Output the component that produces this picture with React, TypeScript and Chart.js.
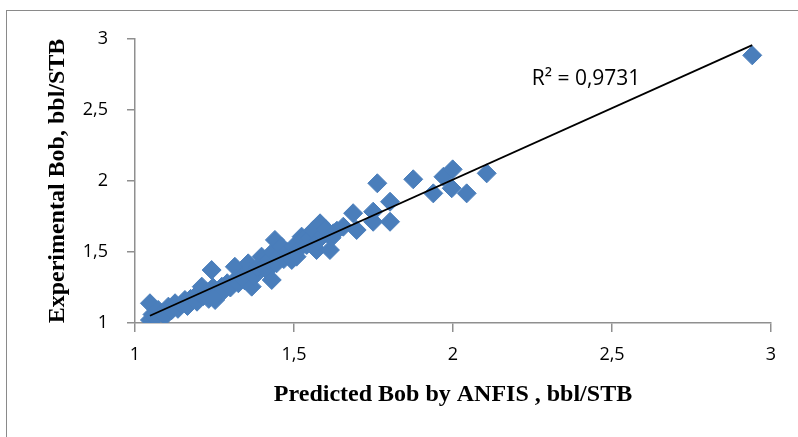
import React, { useEffect, useRef } from 'react';
import { Chart, registerables } from 'chart.js';

Chart.register(...registerables);

// Predicted Bob by ANFIS (x) and experimental Bob (y), bbl/STB
const predicted = [
  1.047, 1.047, 1.055, 1.065, 1.073, 1.085, 1.095, 1.105, 1.115, 1.126,
  1.135, 1.145, 1.157, 1.165, 1.175, 1.189, 1.195, 1.199, 1.21, 1.215,
  1.225, 1.232, 1.241, 1.245, 1.252, 1.26, 1.273, 1.28, 1.29, 1.3,
  1.314, 1.318, 1.325, 1.335, 1.345, 1.356, 1.36, 1.367, 1.375, 1.385,
  1.398, 1.405, 1.415, 1.42, 1.43, 1.433, 1.44, 1.445, 1.452, 1.461,
  1.468, 1.478, 1.485, 1.493, 1.498, 1.508, 1.515, 1.524, 1.529, 1.54,
  1.55, 1.561, 1.571, 1.575, 1.582, 1.59, 1.6, 1.613, 1.618, 1.624,
  1.635, 1.655, 1.686, 1.697, 1.749, 1.749, 1.762, 1.802, 1.802, 1.875,
  1.938, 1.97, 1.996, 1.999, 2.043, 2.106, 2.941,
];
const experimental = [
  1.021, 1.139, 1.06, 1.04, 1.092, 1.07, 1.05, 1.115, 1.09, 1.139,
  1.1, 1.13, 1.162, 1.12, 1.17, 1.185, 1.15, 1.21, 1.256, 1.19,
  1.22, 1.17, 1.373, 1.25, 1.162, 1.21, 1.256, 1.23, 1.28, 1.25,
  1.396, 1.31, 1.28, 1.33, 1.3, 1.42, 1.36, 1.256, 1.33, 1.39,
  1.467, 1.4, 1.37, 1.44, 1.303, 1.5, 1.585, 1.42, 1.47, 1.537,
  1.45, 1.5, 1.48, 1.444, 1.537, 1.467, 1.52, 1.608, 1.585, 1.55,
  1.6, 1.655, 1.514, 1.58, 1.702, 1.62, 1.66, 1.514, 1.6, 1.632,
  1.65, 1.678, 1.773, 1.655, 1.784, 1.713, 1.984, 1.854, 1.713, 2.012,
  1.913, 2.03, 1.949, 2.082, 1.913, 2.054, 2.885,
];

const xTickValues = [1, 1.5, 2, 2.5, 3];
const xTickLabels = ['1', '1,5', '2', '2,5', '3'];
const yTickValues = [1, 1.5, 2, 2.5, 3];
const yTickLabels = ['1', '1,5', '2', '2,5', '3'];

// Linear trendline
const trendSlope = 1.006;
const trendIntercept = -0.002;
const r2Label = 'R² = 0,9731';
const r2Anchor = [2.2475, 2.676];

const xTitle = 'Predicted Bob by ANFIS , bbl/STB';
const yTitle = 'Experimental Bob, bbl/STB';

const W = 798;
const H = 437;
const AXIS = '#8f8f8f';
const BLUE = '#4a7ebb';

export default function App() {
  const ref = useRef<HTMLCanvasElement | null>(null);

  useEffect(() => {
    document.body.style.margin = '0';
    document.body.style.overflow = 'hidden';
    const canvas = ref.current;
    if (!canvas) return;

    const points = predicted.map((x, i) => ({ x, y: experimental[i] }));
    const xMin = Math.min(...predicted);
    const xMax = Math.max(...predicted);
    const trend = [xMin, xMax].map((x) => ({ x, y: trendSlope * x + trendIntercept }));

    const tickFont = { family: '"Open Sans", sans-serif', size: 18 };
    const titleFont = { family: '"Liberation Serif", "Times New Roman", serif', size: 24, weight: 'bold' as const };

    const r2Plugin = {
      id: 'r2label',
      afterDatasetsDraw(chart: any) {
        const { ctx, scales } = chart;
        ctx.save();
        ctx.font = '21px "Open Sans", sans-serif';
        ctx.fillStyle = '#000';
        ctx.textAlign = 'left';
        ctx.textBaseline = 'alphabetic';
        ctx.fillText(r2Label, scales.x.getPixelForValue(r2Anchor[0]), scales.y.getPixelForValue(r2Anchor[1]));
        ctx.restore();
      },
    };

    const chart = new Chart(canvas, {
      type: 'scatter',
      data: {
        datasets: [
          {
            type: 'line',
            data: trend,
            borderColor: '#000',
            borderWidth: 1.8,
            pointRadius: 0,
            fill: false,
            order: 0,
          } as any,
          {
            data: points,
            pointStyle: 'rectRot',
            pointRadius: 9.5,
            pointHoverRadius: 9.5,
            backgroundColor: BLUE,
            borderColor: BLUE,
            borderWidth: 1,
            order: 1,
          },
        ],
      },
      options: {
        responsive: false,
        animation: false,
        devicePixelRatio: 1,
        layout: { padding: { left: 0, top: 39, right: 27, bottom: 0 } },
        plugins: { legend: { display: false }, tooltip: { enabled: false } },
        scales: {
          x: {
            type: 'linear',
            min: 1,
            max: 3,
            afterBuildTicks: (s: any) => {
              s.ticks = xTickValues.map((v) => ({ value: v }));
            },
            afterFit: (s: any) => {
              s.height = 114;
            },
            ticks: {
              callback: (v: any) => xTickLabels[xTickValues.indexOf(Number(v))],
              font: tickFont,
              color: '#000',
              padding: 12,
              maxRotation: 0,
              autoSkip: false,
            },
            grid: { drawOnChartArea: false, drawTicks: true, tickLength: 9, color: AXIS, lineWidth: 1.5 },
            border: { display: true, color: AXIS, width: 1.5 },
            title: { display: true, text: xTitle, font: titleFont, color: '#000', padding: { top: 0, bottom: 28 } },
          },
          y: {
            type: 'linear',
            min: 1,
            max: 3,
            afterBuildTicks: (s: any) => {
              s.ticks = yTickValues.map((v) => ({ value: v }));
            },
            afterFit: (s: any) => {
              s.width = 135;
            },
            ticks: {
              callback: (v: any) => yTickLabels[yTickValues.indexOf(Number(v))],
              font: tickFont,
              color: '#000',
              padding: 19,
              autoSkip: false,
            },
            grid: { drawOnChartArea: false, drawTicks: true, tickLength: 8, color: AXIS, lineWidth: 1.5 },
            border: { display: true, color: AXIS, width: 1.5 },
            title: { display: true, text: yTitle, font: titleFont, color: '#000', padding: { top: 43, bottom: 0 } },
          },
        },
      },
      plugins: [r2Plugin],
    });

    return () => chart.destroy();
  }, []);

  return (
    <div style={{ position: 'relative', width: W, height: H, background: '#fff', overflow: 'hidden' }}>
      <div
        style={{
          position: 'absolute',
          left: 6,
          top: 10,
          width: W - 6,
          height: H - 10,
          boxSizing: 'border-box',
          borderLeft: '1.5px solid #8a8a8a',
          borderTop: '1.5px solid #8a8a8a',
        }}
      />
      <canvas ref={ref} width={W} height={H} style={{ position: 'absolute', left: 0, top: 0, width: W, height: H }} />
    </div>
  );
}
